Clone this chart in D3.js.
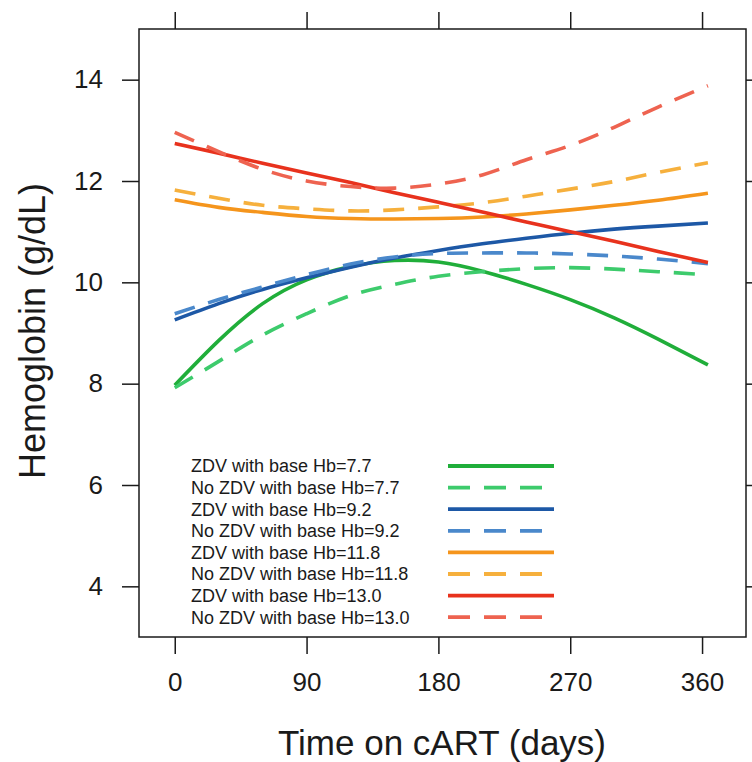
<!DOCTYPE html>
<html>
<head>
<meta charset="utf-8">
<script src="https://cdn.jsdelivr.net/npm/d3@7"></script>
<style>
  body { margin: 0; background: #fff; }
  text { font-family: "Liberation Sans", Arial, sans-serif; fill: #1a1a1a; }
</style>
</head>
<body>
<div id="chart"></div>
<script>
// Data
var days = [0, 30, 60, 90, 120, 150, 180, 210, 240, 270, 300, 330, 364];

var zdv77 = [7.97, 8.85, 9.58, 10.05, 10.31, 10.43, 10.40, 10.22, 9.96, 9.66, 9.30, 8.88, 8.37];
var noZdv77 = [7.92, 8.44, 8.96, 9.38, 9.74, 9.96, 10.12, 10.21, 10.27, 10.29, 10.26, 10.21, 10.15];
var zdv92 = [9.26, 9.58, 9.86, 10.09, 10.30, 10.48, 10.63, 10.76, 10.87, 10.97, 11.05, 11.11, 11.17];
var noZdv92 = [9.38, 9.66, 9.91, 10.15, 10.36, 10.50, 10.57, 10.58, 10.58, 10.56, 10.52, 10.46, 10.37];
var zdv118 = [11.63, 11.48, 11.38, 11.30, 11.26, 11.25, 11.26, 11.29, 11.35, 11.43, 11.52, 11.62, 11.76];
var noZdv118 = [11.82, 11.66, 11.52, 11.45, 11.41, 11.43, 11.49, 11.57, 11.70, 11.84, 11.99, 12.17, 12.36];
var zdv130 = [12.74, 12.55, 12.35, 12.16, 11.97, 11.77, 11.58, 11.39, 11.19, 11.00, 10.81, 10.61, 10.39];
var noZdv130 = [12.96, 12.58, 12.23, 12.00, 11.89, 11.86, 11.94, 12.12, 12.42, 12.70, 13.06, 13.46, 13.88];

var seriesNames = [
    "ZDV with base Hb=7.7", "No ZDV with base Hb=7.7",
    "ZDV with base Hb=9.2", "No ZDV with base Hb=9.2",
    "ZDV with base Hb=11.8", "No ZDV with base Hb=11.8",
    "ZDV with base Hb=13.0", "No ZDV with base Hb=13.0"
];
var seriesValues = [zdv77, noZdv77, zdv92, noZdv92, zdv118, noZdv118, zdv130, noZdv130];
var seriesColors = ["#20ae3a", "#3dcb6c", "#1d58a6", "#4a88cb", "#f5951c", "#f6b03d", "#e8321d", "#ee6350"];
var seriesDashed = [false, true, false, true, false, true, false, true];

var xTicks = [0, 90, 180, 270, 360];
var yTicks = [4, 6, 8, 10, 12, 14];

// SVG canvas
var svgWidth = 752;
var svgHeight = 762;

// plot box
var box = { left: 139, top: 29, right: 746, bottom: 637 };

var svg = d3.select("#chart").append("svg")
    .attr("width", svgWidth)
    .attr("height", svgHeight);

// Scales
var xScale = d3.scaleLinear()
    .domain([-24.4, 390])
    .range([box.left, box.right]);

var yScale = d3.scaleLinear()
    .domain([3, 15])
    .range([box.bottom, box.top]);

// Axes (ticks outward on all four sides, labels on left and bottom only)
var tickLen = 17;

var bottomAxis = d3.axisBottom(xScale).tickValues(xTicks).tickSize(tickLen).tickPadding(19);
var topAxis = d3.axisTop(xScale).tickValues(xTicks).tickSize(tickLen).tickFormat("");
var leftAxis = d3.axisLeft(yScale).tickValues(yTicks).tickSize(tickLen).tickPadding(19);
var rightAxis = d3.axisRight(yScale).tickValues(yTicks).tickSize(tickLen).tickFormat("");

function styleAxis(g) {
    g.select(".domain").remove();
    g.selectAll("line").attr("stroke", "#1a1a1a").attr("stroke-width", 1.5);
    g.selectAll("text")
        .style("font-family", "'Liberation Sans', Arial, sans-serif")
        .style("font-size", "26px")
        .attr("fill", "#1a1a1a");
}

svg.append("g").attr("transform", `translate(0, ${box.bottom})`).call(bottomAxis).call(styleAxis);
svg.append("g").attr("transform", `translate(0, ${box.top})`).call(topAxis).call(styleAxis);
svg.append("g").attr("transform", `translate(${box.left}, 0)`).call(leftAxis).call(styleAxis);
svg.append("g").attr("transform", `translate(${box.right}, 0)`).call(rightAxis).call(styleAxis);

// Plot frame
svg.append("rect")
    .attr("x", box.left)
    .attr("y", box.top)
    .attr("width", box.right - box.left)
    .attr("height", box.bottom - box.top)
    .attr("fill", "none")
    .attr("stroke", "#1a1a1a")
    .attr("stroke-width", 1.5);

// Curves
var line = d3.line()
    .x(d => xScale(d[0]))
    .y(d => yScale(d[1]))
    .curve(d3.curveNatural);

seriesValues.forEach(function (vals, i) {
    var pts = days.map((d, j) => [d, vals[j]]);
    svg.append("path")
        .datum(pts)
        .attr("d", line)
        .attr("fill", "none")
        .attr("stroke", seriesColors[i])
        .attr("stroke-width", 3.6)
        .attr("stroke-dasharray", seriesDashed[i] ? "21,14" : null);
});

// Legend
var legendX = 191;
var legendY = 466;
var legendStep = 21.6;

var legend = svg.append("g");

seriesNames.forEach(function (name, i) {
    var yy = legendY + i * legendStep;
    legend.append("text")
        .attr("x", legendX)
        .attr("y", yy)
        .attr("dy", "0.36em")
        .style("font-size", "18px")
        .attr("fill", "#333")
        .text(name);
    legend.append("line")
        .attr("x1", 448)
        .attr("x2", 554)
        .attr("y1", yy)
        .attr("y2", yy)
        .attr("stroke", seriesColors[i])
        .attr("stroke-width", 3.8)
        .attr("stroke-dasharray", seriesDashed[i] ? "22,14" : null);
});

// Axis titles
svg.append("text")
    .attr("x", 442)
    .attr("y", 755)
    .attr("text-anchor", "middle")
    .style("font-size", "35px")
    .text("Time on cART (days)");

svg.append("text")
    .attr("transform", "translate(45, 331) rotate(-90)")
    .attr("text-anchor", "middle")
    .style("font-size", "36px")
    .text("Hemoglobin (g/dL)");
</script>
</body>
</html>
